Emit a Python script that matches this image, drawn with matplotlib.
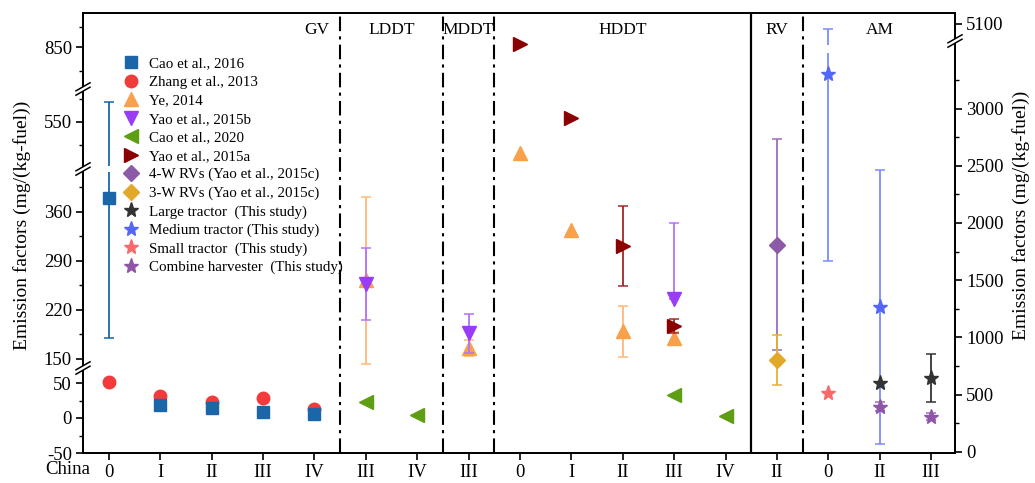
import numpy as np
import matplotlib
matplotlib.use('Agg')
import matplotlib.pyplot as plt
from matplotlib.transforms import blended_transform_factory
from matplotlib.patches import Rectangle
from matplotlib.lines import Line2D

plt.rcParams['font.family'] = ['Liberation Serif', 'DejaVu Serif']

# ---------------- data ----------------
xlabels = ['0', 'I', 'II', 'III', 'IV', 'III', 'IV', 'III', '0', 'I', 'II', 'III', 'IV', 'II', '0', 'II', 'III']
group_names = ['GV', 'LDDT', 'MDDT', 'HDDT', 'RV', 'AM']
group_pos = [4.05, 5.5, 7.0, 10.0, 13.0, 15.0]
dashdot_sep = [4.5, 6.5, 7.5, 13.5]
solid_sep = [12.5]

# left axis series
cao2016_x = [0, 1, 2, 3, 4]
cao2016_y = [380, 18, 14, 8, 6]
cao2016_err = [200, 0, 0, 0, 0]

zhang2013_x = [0, 1, 2, 3, 4]
zhang2013_y = [52, 32, 23, 29, 13]

ye2014_x = [5, 7, 8, 9, 10, 11]
ye2014_y = [262, 165, 503, 334, 189, 180]
ye2014_err = [120, 11, 0, 0, 37, 8]

yao2015b_x = [5, 7, 11]
yao2015b_y = [257, 186, 235]
yao2015b_err_lo = [52, 28, 0]
yao2015b_err_hi = [52, 28, 109]

cao2020_x = [5, 6, 11, 12]
cao2020_y = [23, 4, 33, 3]

yao2015a_x = [8, 9, 10, 11]
yao2015a_y = [855, 556, 311, 197]
yao2015a_err = [0, 0, 57, 10]

# right axis series
rv4_x = [13]
rv4_y = [1811]
rv4_err = [920]

rv3_x = [13]
rv3_y = [802]
rv3_err = [217]

large_x = [15, 16]
large_y = [599, 642]
large_err = [0, 210]

medium_x = [14, 15]
medium_y = [3302, 1267]
medium_err_lo = [1634, 1195]
medium_err_hi = [1720, 1195]

small_x = [14]
small_y = [512]

combine_x = [15, 16]
combine_y = [395, 308]
combine_err = [40, 30]

left_ticks = [-50, 0, 50, 150, 220, 290, 360, 550, 850]
left_minor = [-25, 25, 185, 255, 325, 395, 515, 585, 815, 880]
right_ticks = [0, 500, 1000, 1500, 2000, 2500, 3000, 5100]
right_minor = [250, 750, 1250, 1750, 2250, 2750, 3250]

# ---------------- layout (pixels) ----------------
W, H = 1035, 483
AX_L, AX_R, AX_T, AX_B = 83, 955, 13, 453
AX_H = AX_B - AX_T

# broken-axis knots: value -> pixel row
L_vals = [-50, 70, 138, 420, 480, 598, 790, 900]
L_px = [453, 369, 367, 170, 168, 90, 88, 13]
R_vals = [-10, 3590, 4880, 5250]
R_px = [453, 41, 39, 13]
L_frac = [(AX_B - p) / AX_H for p in L_px]
R_frac = [(AX_B - p) / AX_H for p in R_px]


def make_scale(vals, fr):
    vals = np.asarray(vals, float)
    fr = np.asarray(fr, float)

    def fwd(v):
        return np.interp(np.asarray(v, float), vals, fr)

    def inv(f):
        return np.interp(np.asarray(f, float), fr, vals)
    return fwd, inv


fig = plt.figure(figsize=(W / 100, H / 100), dpi=100)
ax = fig.add_axes([AX_L / W, (H - AX_B) / H, (AX_R - AX_L) / W, AX_H / H])
ax2 = ax.twinx()

ax.set_yscale('function', functions=make_scale(L_vals, L_frac))
ax2.set_yscale('function', functions=make_scale(R_vals, R_frac))
ax.set_ylim(L_vals[0], L_vals[-1])
ax2.set_ylim(R_vals[0], R_vals[-1])
ax.set_xlim(-0.506, 16.467)

ax.set_yticks(left_ticks)
ax.set_yticks(left_minor, minor=True)
ax.set_yticklabels([str(t) for t in left_ticks])
ax2.set_yticks(right_ticks)
ax2.set_yticks(right_minor, minor=True)
ax2.set_yticklabels([str(t) for t in right_ticks])
ax.set_xticks(range(len(xlabels)))
ax.set_xticklabels(xlabels)
ax.xaxis.set_minor_locator(plt.NullLocator())

for a in (ax, ax2):
    for s in a.spines.values():
        s.set_linewidth(1.3)
ax.tick_params(axis='both', which='major', direction='out', length=5, width=1.2, labelsize=13.5, pad=3)
ax.tick_params(axis='y', which='minor', direction='out', length=3, width=1.0)
ax2.tick_params(axis='y', which='major', direction='out', length=5, width=1.2, labelsize=13.5, pad=3)
ax2.tick_params(axis='y', which='minor', direction='out', length=3, width=1.0)

# separators
for xs in dashdot_sep:
    ax.axvline(xs, color='black', lw=1.5, ls=(0, (7, 2.5, 1.5, 2.5)), zorder=1)
for xs in solid_sep:
    ax.axvline(xs, color='black', lw=1.6, zorder=1)

for name, gx in zip(group_names, group_pos):
    ax.text(gx, 0.961, name, transform=blended_transform_factory(ax.transData, ax.transAxes),
            ha='center', va='center', fontsize=12.5)


def draw(a, xs, ys, marker, color, ms, ecolor=None, err_lo=None, err_hi=None, z=3):
    a.plot(xs, ys, ls='none', marker=marker, color=color, ms=ms, mec=color, zorder=z)
    if err_lo is not None:
        if err_hi is None:
            err_hi = err_lo
        idx = [i for i in range(len(xs)) if err_lo[i] > 0 or err_hi[i] > 0]
        if idx:
            a.errorbar([xs[i] for i in idx], [ys[i] for i in idx],
                       yerr=[[err_lo[i] for i in idx], [err_hi[i] for i in idx]],
                       fmt='none', ecolor=ecolor or color, elinewidth=1.3, capsize=3.5,
                       capthick=1.1, zorder=z - 0.5)


c_cao16 = '#1A66A8'
c_zhang = '#F23B3B'
c_ye = '#F9A04A'
c_yaob = '#9A3CF5'
c_cao20 = '#5E9E12'
c_yaoa = '#8B0000'
c_rv4 = '#8C5BA8'
c_rv3 = '#E2A82A'
c_large = '#333333'
c_medium = '#5466F7'
c_small = '#F86A6A'
c_comb = '#8E55A8'

draw(ax, cao2016_x, cao2016_y, 's', c_cao16, 8, err_lo=cao2016_err)
draw(ax, zhang2013_x, zhang2013_y, 'o', c_zhang, 9, z=2.8)
draw(ax, ye2014_x, ye2014_y, '^', c_ye, 10, ecolor='#FFB878', err_lo=ye2014_err)
draw(ax, yao2015b_x, yao2015b_y, 'v', c_yaob, 10, ecolor='#B373FF', err_lo=yao2015b_err_lo,
     err_hi=yao2015b_err_hi, z=4)
draw(ax, cao2020_x, cao2020_y, '<', c_cao20, 10)
draw(ax, yao2015a_x, yao2015a_y, '>', c_yaoa, 10, ecolor='#A0282A', err_lo=yao2015a_err, z=4.5)

draw(ax2, rv4_x, rv4_y, 'D', c_rv4, 8.5, ecolor='#9B6DB8', err_lo=rv4_err)
draw(ax2, rv3_x, rv3_y, 'D', c_rv3, 8.5, ecolor='#E8B030', err_lo=rv3_err)
draw(ax2, medium_x, medium_y, '*', c_medium, 11, ecolor='#7B8AFF', err_lo=medium_err_lo,
     err_hi=medium_err_hi)
draw(ax2, large_x, large_y, '*', c_large, 11, err_lo=large_err, z=4)
draw(ax2, small_x, small_y, '*', c_small, 11)
draw(ax2, combine_x, combine_y, '*', c_comb, 11, ecolor='#9B6DB8', err_lo=combine_err, z=4)

# gaps in error bars at axis breaks
for gx, p0, p1 in [(0, 166, 172), (14, 45, 53)]:
    ax2.add_patch(Rectangle((gx - 0.1, (AX_B - p1) / AX_H), 0.2, (p1 - p0) / AX_H,
                            transform=blended_transform_factory(ax2.transData, ax2.transAxes),
                            facecolor='white', edgecolor='none', zorder=10))


# break marks on spines
def brk(xp, yp):
    fx = lambda p: p / W
    fy = lambda p: (H - p) / H
    fig.patches.append(Rectangle((fx(xp - 3), fy(yp + 2)), 6 / W, 4 / H, transform=fig.transFigure,
                                 facecolor='white', edgecolor='none', zorder=20))
    for d in (-2.2, 2.2):
        fig.lines.append(Line2D([fx(xp - 7), fx(xp + 7)], [fy(yp + d + 4), fy(yp + d - 4)],
                                transform=fig.transFigure, color='black', lw=1.1, zorder=21))


for yp in (368, 169, 89):
    brk(AX_L, yp)
brk(AX_R, 41)

# legend
handles = [
    Line2D([], [], ls='none', marker='s', color=c_cao16, ms=8),
    Line2D([], [], ls='none', marker='o', color=c_zhang, ms=9),
    Line2D([], [], ls='none', marker='^', color=c_ye, ms=10),
    Line2D([], [], ls='none', marker='v', color=c_yaob, ms=10),
    Line2D([], [], ls='none', marker='<', color=c_cao20, ms=10),
    Line2D([], [], ls='none', marker='>', color=c_yaoa, ms=10),
    Line2D([], [], ls='none', marker='D', color=c_rv4, ms=8),
    Line2D([], [], ls='none', marker='D', color=c_rv3, ms=8),
    Line2D([], [], ls='none', marker='*', color=c_large, ms=11),
    Line2D([], [], ls='none', marker='*', color=c_medium, ms=11),
    Line2D([], [], ls='none', marker='*', color=c_small, ms=11),
    Line2D([], [], ls='none', marker='*', color=c_comb, ms=11),
]
labels = ['Cao et al., 2016', 'Zhang et al., 2013', 'Ye, 2014', 'Yao et al., 2015b', 'Cao et al., 2020',
          'Yao et al., 2015a', '4-W RVs (Yao et al., 2015c)', '3-W RVs (Yao et al., 2015c)',
          'Large tractor  (This study)', 'Medium tractor (This study)', 'Small tractor  (This study)',
          'Combine harvester  (This study)']
leg = ax2.legend(handles, labels, loc='upper left',
                 bbox_to_anchor=((124 - AX_L) / (AX_R - AX_L), (AX_B - 57) / AX_H),
                 frameon=False, fontsize=10.8, handlelength=0.9, handletextpad=0.75, labelspacing=0.33,
                 borderpad=0, borderaxespad=0)
leg.set_zorder(30)

# axis labels
fig.text(22 / W, (H - 225) / H, 'Emission factors (mg/(kg-fuel))', rotation=90, ha='center', va='center', fontsize=14)
fig.text(1021 / W, (H - 215) / H, 'Emission factors (mg/(kg-fuel))', rotation=90, ha='center', va='center', fontsize=14)
fig.text(90 / W, (H - 470) / H, 'China', ha='right', va='center', fontsize=13.5)

fig.savefig('out.png', dpi=100)
